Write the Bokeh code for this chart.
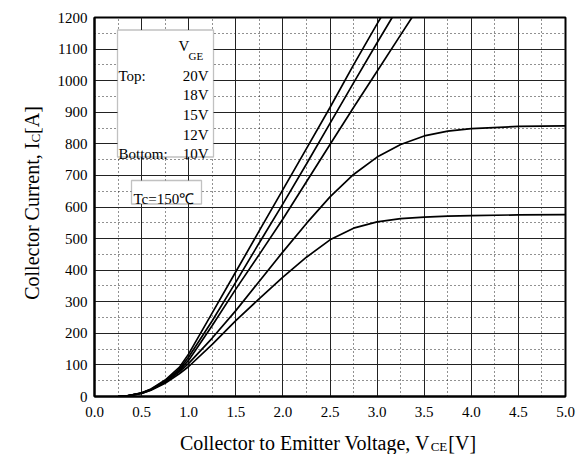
from math import pi
from bokeh.plotting import figure
from bokeh.layouts import row, column
from bokeh.models import Label, BoxAnnotation, FixedTicker
from bokeh.embed import file_html
from bokeh.resources import INLINE

# ---------------- data ----------------
vce = [0.25, 0.35, 0.5, 0.6, 0.75, 0.9, 1.0, 1.25, 1.5, 1.75, 2.0, 2.25,
       2.5, 2.75, 3.0, 3.25, 3.5, 3.75, 4.0, 4.5, 5.0]
ic_10v = [0, 2, 10, 20, 42, 72, 95, 165, 240, 310, 378, 441,
          496, 533, 553, 563, 568, 571, 573, 575, 576]
ic_12v = [0, 2, 10, 21, 45, 78, 105, 185, 272, 365, 458, 548,
          632, 703, 758, 798, 825, 840, 848, 855, 857]
vce_15v = [0.25, 0.35, 0.5, 0.6, 0.75, 0.9, 1.0, 1.25, 1.5, 1.75, 2.0, 2.25,
           2.5, 2.75, 3.0, 3.25, 3.37]
ic_15v = [0, 2, 11, 22, 47, 82, 115, 225, 340, 450, 562, 680,
          798, 915, 1030, 1145, 1200]
vce_18v = [0.25, 0.35, 0.5, 0.6, 0.75, 0.9, 1.0, 1.25, 1.5, 1.75, 2.0, 2.25,
           2.5, 2.75, 3.0, 3.16]
ic_18v = [0, 2, 11, 23, 49, 86, 125, 240, 362, 487, 610, 736,
          865, 993, 1120, 1200]
vce_20v = [0.25, 0.35, 0.5, 0.6, 0.75, 0.9, 1.0, 1.25, 1.5, 1.75, 2.0, 2.25,
           2.5, 2.75, 3.0, 3.04]
ic_20v = [0, 2, 12, 24, 52, 92, 135, 265, 395, 525, 655, 785,
          915, 1050, 1180, 1200]

x_ticks = [0.0, 0.5, 1.0, 1.5, 2.0, 2.5, 3.0, 3.5, 4.0, 4.5, 5.0]
x_tick_labels = ["0.0", "0.5", "1.0", "1.5", "2.0", "2.5", "3.0", "3.5", "4.0", "4.5", "5.0"]
x_minor = [0.25, 0.75, 1.25, 1.75, 2.25, 2.75, 3.25, 3.75, 4.25, 4.75]
y_ticks = [0, 100, 200, 300, 400, 500, 600, 700, 800, 900, 1000, 1100, 1200]
y_minor = [50, 150, 250, 350, 450, 550, 650, 750, 850, 950, 1050, 1150]

x_title = ["Collector to Emitter Voltage, V", "CE", "[V]"]
y_title = ["Collector Current, I", "C", "[A]"]
legend_title = "V"
legend_title_sub = "GE"
legend_values = ["20V", "18V", "15V", "12V", "10V"]
tc_text = "Tc=150\u2103"

FONT = "Liberation Serif"

# ---------------- geometry (page px) ----------------
YLAB_W = 48
MAIN_W = 530
MAIN_H = 426
XLAB_H = 28
FRAME_L = 94      # page x of frame left
FRAME_T = 17      # page y of frame top
FRAME_W = 471
FRAME_H = 379
FRAME_B = FRAME_T + FRAME_H

# ---------------- main figure ----------------
p = figure(width=MAIN_W, height=MAIN_H, x_range=(0, 5), y_range=(0, 1200), title=None,
           output_backend="svg", toolbar_location=None,
           min_border_left=FRAME_L - YLAB_W, min_border_right=MAIN_W - (FRAME_L - YLAB_W) - FRAME_W,
           min_border_top=FRAME_T, min_border_bottom=MAIN_H - FRAME_T - FRAME_H)
p.background_fill_color = "white"
p.border_fill_color = "white"
p.outline_line_color = "black"
p.outline_line_width = 2

p.xaxis.ticker = FixedTicker(ticks=x_ticks, minor_ticks=x_minor)
p.yaxis.ticker = FixedTicker(ticks=y_ticks, minor_ticks=y_minor)
p.xaxis.major_label_overrides = {t: l for t, l in zip(x_ticks, x_tick_labels)}
for ax in (p.xaxis, p.yaxis):
    ax.axis_line_color = "black"
    ax.axis_line_width = 2
    ax.major_tick_in = 0
    ax.major_tick_out = 0
    ax.minor_tick_in = 0
    ax.minor_tick_out = 0
    ax.major_label_text_font = FONT
    ax.major_label_text_font_size = "15px"
    ax.major_label_text_color = "black"
p.xaxis.major_label_standoff = 10
p.yaxis.major_label_standoff = 7

for g in (p.xgrid, p.ygrid):
    g.grid_line_color = "#222222"
    g.grid_line_width = 1
    g.minor_grid_line_color = "#222222"
    g.minor_grid_line_width = 1
    g.minor_grid_line_dash = "1 3"

for xs, ys in [(vce, ic_10v), (vce, ic_12v), (vce_15v, ic_15v),
               (vce_18v, ic_18v), (vce_20v, ic_20v)]:
    p.line(xs, ys, line_color="black", line_width=1.7)

PXV = FRAME_W / 5.0
PXA = FRAME_H / 1200.0


def dx(px):
    return (px - FRAME_L) / PXV


def dy(py):
    return (FRAME_B - py) / PXA


p.add_layout(BoxAnnotation(left=dx(117), right=dx(213), top=dy(29.5), bottom=dy(156.5),
                           fill_color="white", fill_alpha=1.0,
                           line_color="#333333", line_width=1.3))
p.add_layout(BoxAnnotation(left=dx(131), right=dx(201), top=dy(180), bottom=dy(203.5),
                           fill_color="white", fill_alpha=1.0,
                           line_color="#333333", line_width=1.3))


def lab(fig, text, x, y, size="15px", align="left", angle=0.0):
    fig.add_layout(Label(x=x, y=y, text=text, text_font=FONT,
                         text_font_size=size, text_color="black",
                         text_align=align, text_baseline="alphabetic", angle=angle))


lab(p, legend_title, dx(178), dy(45))
lab(p, legend_title_sub, dx(188), dy(55), size="11px")
row_base = [75, 94, 114, 134, 153]
for txt, b in zip(legend_values, row_base):
    lab(p, txt, dx(208), dy(b), align="right")
lab(p, "Top:", dx(118), dy(75))
lab(p, "Bottom:", dx(118), dy(153))
lab(p, tc_text, dx(133), dy(198.5))

# ---------------- x title strip (frame aligned with main frame) ----------------
xl = figure(width=MAIN_W, height=XLAB_H, x_range=p.x_range, y_range=(0, XLAB_H), title=None,
            output_backend="svg", toolbar_location=None,
            x_axis_type=None, y_axis_type=None,
            min_border=0, min_border_left=FRAME_L - YLAB_W,
            min_border_right=MAIN_W - (FRAME_L - YLAB_W) - FRAME_W,
            min_border_top=0, min_border_bottom=0)
xl.outline_line_color = None
xl.grid.visible = False
xl.background_fill_color = "white"
xl.border_fill_color = "white"
W_MAIN_X = 12.638 * 20
W_SUB_X = 1.278 * 13
W_END = 1.388 * 20
tot = W_MAIN_X + W_SUB_X + W_END
x0 = 328 - tot / 2
base_main = 12
lab(xl, x_title[0], dx(x0), base_main, size="20px")
lab(xl, x_title[1], dx(x0 + W_MAIN_X - 2), base_main - 4, size="13px")
lab(xl, x_title[2], dx(x0 + W_MAIN_X + W_SUB_X - 1), base_main, size="20px")

# ---------------- y title strip ----------------
TOT_H = MAIN_H + XLAB_H
yl = figure(width=YLAB_W, height=TOT_H, x_range=(0, YLAB_W), y_range=(0, TOT_H), title=None,
            output_backend="svg", toolbar_location=None,
            x_axis_type=None, y_axis_type=None,
            min_border=0, min_border_left=0, min_border_right=0,
            min_border_top=0, min_border_bottom=0)
yl.outline_line_color = None
yl.grid.visible = False
yl.background_fill_color = "white"
yl.border_fill_color = "white"
W_MAIN_Y = 7.86 * 20
W_SUB_Y = 0.667 * 13
W_END_Y = 1.388 * 20
toty = W_MAIN_Y + W_SUB_Y + W_END_Y
ystart = TOT_H - (202.5 + toty / 2)
lab(yl, y_title[0], 31.7, ystart, size="20px", angle=pi / 2)
lab(yl, y_title[1], 35.0, ystart + W_MAIN_Y, size="13px", angle=pi / 2)
lab(yl, y_title[2], 31.7, ystart + W_MAIN_Y + W_SUB_Y, size="20px", angle=pi / 2)

layout = row(yl, column(p, xl, spacing=0), spacing=0)
open("out.html", "w").write(file_html(layout, INLINE))
